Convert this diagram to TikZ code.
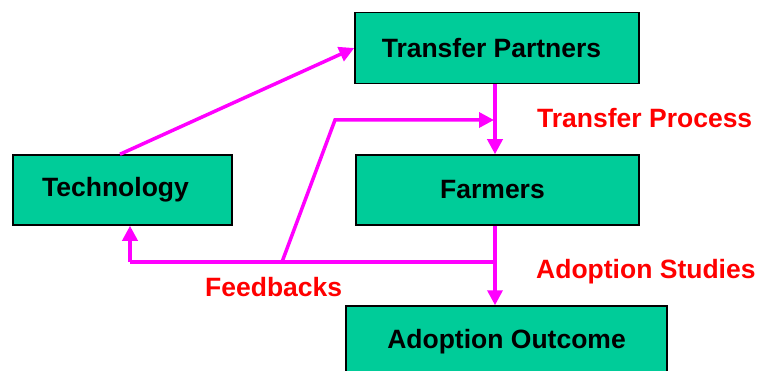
\documentclass[tikz,border=0pt]{standalone}
\usepackage{fontspec}
\setmainfont{Liberation Sans}
\usetikzlibrary{arrows.meta}

\definecolor{boxgreen}{RGB}{0,204,153}
\definecolor{linkpink}{RGB}{255,0,255}

\tikzset{
  box/.style={draw=black,line width=1.5pt,fill=boxgreen,inner sep=0pt,
    font=\fontsize{26.5}{30}\selectfont\bfseries},
  flow/.style={linkpink,line width=3.5pt,-{Triangle[length=15pt,width=15pt]}},
  fb/.style={linkpink,line width=3.5pt},
  lbl/.style={red,inner sep=0pt,anchor=base west,
    font=\fontsize{26.5}{30}\selectfont\bfseries}
}

\begin{document}
\begin{tikzpicture}[x=1pt,y=1pt]
\useasboundingbox (0,0) rectangle (758,370);

\node [box,minimum width=284pt,minimum height=71pt] (partners) at (497,322) {Transfer Partners\hspace*{11pt}};
\node [box,minimum width=219pt,minimum height=70pt] (tech) at (122.5,180) {Technology\hspace*{14pt}};
\node [box,minimum width=283pt,minimum height=70pt] (farmers) at (497.5,180) {Farmers\hspace*{10pt}};
\node [box,minimum width=321pt,minimum height=72pt] (outcome) at (506.5,28) {Adoption Outcome};

\node [lbl] (process) at (537,242) {Transfer Process};
\node [lbl] (studies) at (536,92) {Adoption Studies};
\node [lbl] (feedbacks) at (205,74) {Feedbacks};

% main flow
\draw [flow] ([xshift=-2.5pt]tech.north) -- (partners.west);
\draw [flow] ([xshift=-2pt]partners.south) -- ([xshift=-2.5pt]farmers.north);
\draw [flow] ([xshift=-2.5pt]farmers.south) -- ([xshift=-11.5pt]outcome.north);

% feedback loops
\coordinate (fbstart) at (495,108);
\coordinate (fbleft) at (130,108);
\coordinate (fbsplit) at (282,108);
\coordinate (fbkink) at (335,250);
\coordinate (fbend) at (494,250);
\draw [fb] (fbstart) -- (fbleft);
\draw [flow] (fbleft) -- (fbleft |- tech.south);
\draw [flow] (fbsplit) -- (fbkink) -- (fbend);

\end{tikzpicture}
\end{document}
